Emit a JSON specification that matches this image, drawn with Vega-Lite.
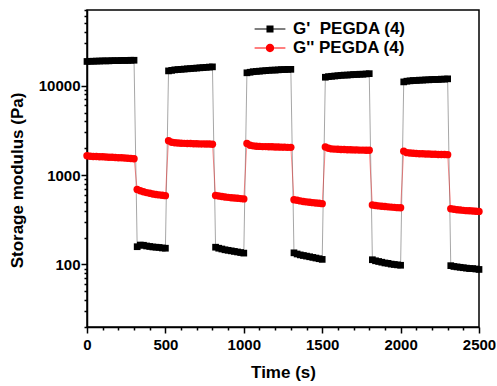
{
  "$schema": "https://vega.github.io/schema/vega-lite/v6.json",
  "width": 392,
  "height": 317,
  "autosize": "none",
  "padding": {"left": 87, "top": 10, "right": 18, "bottom": 59},
  "background": "white",
  "config": {
    "view": {"stroke": "black", "strokeWidth": 1.5},
    "font": "Liberation Sans",
    "axis": {
      "domainColor": "black", "domainWidth": 1.5,
      "tickColor": "black", "tickWidth": 1.5,
      "labelFont": "Liberation Sans", "labelFontSize": 15, "labelFontWeight": "bold", "labelColor": "black",
      "titleFont": "Liberation Sans", "titleFontSize": 17, "titleFontWeight": "bold", "titleColor": "black",
      "grid": false, "labelOverlap": false, "labelFlush": false, "labelBound": false
    }
  },
  "data": {"values": [
    {"t":0,"gp":18600,"gpp":1640},{"t":20,"gp":18700,"gpp":1620},{"t":40,"gp":18700,"gpp":1610},{"t":60,"gp":18800,"gpp":1610},
    {"t":80,"gp":18800,"gpp":1600},{"t":100,"gp":18900,"gpp":1600},{"t":120,"gp":18900,"gpp":1590},{"t":140,"gp":18900,"gpp":1580},
    {"t":160,"gp":19000,"gpp":1580},{"t":180,"gp":19000,"gpp":1570},{"t":200,"gp":19000,"gpp":1560},{"t":220,"gp":19100,"gpp":1560},
    {"t":240,"gp":19100,"gpp":1550},{"t":260,"gp":19100,"gpp":1540},{"t":280,"gp":19200,"gpp":1530},{"t":300,"gp":19200,"gpp":1520},
    {"t":320,"gp":158,"gpp":690},{"t":340,"gp":165,"gpp":668},{"t":360,"gp":164,"gpp":650},{"t":380,"gp":161,"gpp":636},
    {"t":400,"gp":159,"gpp":625},{"t":420,"gp":157,"gpp":615},{"t":440,"gp":156,"gpp":607},{"t":460,"gp":155,"gpp":600},
    {"t":480,"gp":153,"gpp":594},{"t":500,"gp":152,"gpp":588},
    {"t":520,"gp":14600,"gpp":2420},{"t":540,"gp":14800,"gpp":2330},{"t":560,"gp":15000,"gpp":2300},{"t":580,"gp":15100,"gpp":2280},
    {"t":600,"gp":15200,"gpp":2270},{"t":620,"gp":15300,"gpp":2260},{"t":640,"gp":15400,"gpp":2250},{"t":660,"gp":15500,"gpp":2250},
    {"t":680,"gp":15600,"gpp":2240},{"t":700,"gp":15700,"gpp":2240},{"t":720,"gp":15800,"gpp":2230},{"t":740,"gp":15900,"gpp":2230},
    {"t":760,"gp":16000,"gpp":2220},{"t":780,"gp":16100,"gpp":2220},{"t":800,"gp":16200,"gpp":2210},
    {"t":820,"gp":156,"gpp":590},{"t":840,"gp":152,"gpp":582},{"t":860,"gp":149,"gpp":575},{"t":880,"gp":146,"gpp":569},
    {"t":900,"gp":144,"gpp":563},{"t":920,"gp":142,"gpp":558},{"t":940,"gp":140,"gpp":553},{"t":960,"gp":138,"gpp":549},
    {"t":980,"gp":136,"gpp":545},{"t":1000,"gp":134,"gpp":541},
    {"t":1020,"gp":13900,"gpp":2250},{"t":1040,"gp":14100,"gpp":2150},{"t":1060,"gp":14300,"gpp":2120},{"t":1080,"gp":14400,"gpp":2100},
    {"t":1100,"gp":14500,"gpp":2090},{"t":1120,"gp":14600,"gpp":2080},{"t":1140,"gp":14700,"gpp":2080},{"t":1160,"gp":14800,"gpp":2070},
    {"t":1180,"gp":14900,"gpp":2070},{"t":1200,"gp":14900,"gpp":2060},{"t":1220,"gp":15000,"gpp":2060},{"t":1240,"gp":15100,"gpp":2050},
    {"t":1260,"gp":15100,"gpp":2050},{"t":1280,"gp":15200,"gpp":2040},{"t":1300,"gp":15200,"gpp":2040},
    {"t":1320,"gp":135,"gpp":530},{"t":1340,"gp":131,"gpp":522},{"t":1360,"gp":128,"gpp":514},{"t":1380,"gp":126,"gpp":507},
    {"t":1400,"gp":124,"gpp":501},{"t":1420,"gp":122,"gpp":496},{"t":1440,"gp":120,"gpp":491},{"t":1460,"gp":118,"gpp":487},
    {"t":1480,"gp":116,"gpp":483},{"t":1500,"gp":114,"gpp":479},
    {"t":1520,"gp":12400,"gpp":2060},{"t":1540,"gp":12600,"gpp":1990},{"t":1560,"gp":12700,"gpp":1960},{"t":1580,"gp":12800,"gpp":1950},
    {"t":1600,"gp":12900,"gpp":1940},{"t":1620,"gp":13000,"gpp":1930},{"t":1640,"gp":13100,"gpp":1930},{"t":1660,"gp":13100,"gpp":1920},
    {"t":1680,"gp":13200,"gpp":1920},{"t":1700,"gp":13300,"gpp":1910},{"t":1720,"gp":13300,"gpp":1910},{"t":1740,"gp":13400,"gpp":1900},
    {"t":1760,"gp":13400,"gpp":1900},{"t":1780,"gp":13500,"gpp":1890},{"t":1800,"gp":13600,"gpp":1890},
    {"t":1820,"gp":113,"gpp":463},{"t":1840,"gp":110,"gpp":457},{"t":1860,"gp":108,"gpp":452},{"t":1880,"gp":106,"gpp":448},
    {"t":1900,"gp":104,"gpp":444},{"t":1920,"gp":103,"gpp":441},{"t":1940,"gp":101,"gpp":438},{"t":1960,"gp":100,"gpp":435},
    {"t":1980,"gp":99,"gpp":432},{"t":2000,"gp":98,"gpp":430},
    {"t":2020,"gp":11000,"gpp":1850},{"t":2040,"gp":11200,"gpp":1780},{"t":2060,"gp":11300,"gpp":1760},{"t":2080,"gp":11400,"gpp":1750},
    {"t":2100,"gp":11400,"gpp":1740},{"t":2120,"gp":11500,"gpp":1730},{"t":2140,"gp":11500,"gpp":1730},{"t":2160,"gp":11600,"gpp":1720},
    {"t":2180,"gp":11600,"gpp":1720},{"t":2200,"gp":11700,"gpp":1710},{"t":2220,"gp":11700,"gpp":1710},{"t":2240,"gp":11700,"gpp":1700},
    {"t":2260,"gp":11800,"gpp":1700},{"t":2280,"gp":11800,"gpp":1700},{"t":2300,"gp":11900,"gpp":1690},
    {"t":2320,"gp":97,"gpp":420},{"t":2340,"gp":95,"gpp":414},{"t":2360,"gp":94,"gpp":410},{"t":2380,"gp":93,"gpp":406},
    {"t":2400,"gp":92,"gpp":403},{"t":2420,"gp":91,"gpp":400},{"t":2440,"gp":90,"gpp":398},{"t":2460,"gp":90,"gpp":396},
    {"t":2480,"gp":89,"gpp":394},{"t":2500,"gp":88,"gpp":392}
  ]},
  "transform": [{"fold": ["gp", "gpp"], "as": ["series", "v"]}],
  "encoding": {
    "x": {
      "field": "t", "type": "quantitative",
      "scale": {"domain": [0, 2500], "nice": false, "zero": false},
      "axis": {
        "title": "Time (s)",
        "values": [0,100,200,300,400,500,600,700,800,900,1000,1100,1200,1300,1400,1500,1600,1700,1800,1900,2000,2100,2200,2300,2400,2500],
        "labelExpr": "datum.value % 500 == 0 ? datum.value + '' : ''",
        "tickSize": {"condition": {"test": "datum.value % 500 == 0", "value": 6}, "value": 3},
        "labelPadding": 4,
        "titleY": 50, "titleBaseline": "alphabetic"
      }
    },
    "y": {
      "field": "v", "type": "quantitative",
      "scale": {"type": "log", "domain": [20, 70000], "nice": false},
      "axis": {
        "title": "Storage modulus (Pa)",
        "values": [20,30,40,50,60,70,80,90,100,200,300,400,500,600,700,800,900,1000,2000,3000,4000,5000,6000,7000,8000,9000,10000,20000,30000,40000,50000,60000,70000],
        "labelExpr": "(datum.value == 100 || datum.value == 1000 || datum.value == 10000) ? datum.value + '' : ''",
        "tickSize": {"condition": {"test": "datum.value == 100 || datum.value == 1000 || datum.value == 10000", "value": 6}, "value": 3},
        "labelPadding": 1,
        "titleX": -65, "titleY": 170, "titleBaseline": "alphabetic", "titleAlign": "center", "titleAngle": -90
      }
    }
  },
  "layer": [
    {
      "transform": [{"filter": "datum.series == 'gp'"}],
      "mark": {"type": "line", "strokeWidth": 1, "color": "black", "strokeOpacity": 0.35},
      "encoding": {}
    },
    {
      "transform": [{"filter": "datum.series == 'gpp'"}],
      "mark": {"type": "line", "strokeWidth": 1, "color": "red", "strokeOpacity": 0.4},
      "encoding": {}
    },
    {
      "transform": [{"filter": "datum.series == 'gp'"}],
      "mark": {"type": "point", "shape": "square", "filled": true, "color": "black", "size": 45, "opacity": 1}
    },
    {
      "transform": [{"filter": "datum.series == 'gpp'"}],
      "mark": {"type": "point", "shape": "circle", "filled": true, "color": "red", "size": 55, "opacity": 1}
    },
    {
      "transform": [{"filter": "datum.t == 0"}],
      "mark": {"type": "point", "filled": true, "opacity": 0, "size": 484},
      "encoding": {
        "color": {
          "field": "series", "type": "nominal",
          "scale": {"domain": ["gp", "gpp"], "range": ["black", "red"]},
          "legend": {
            "title": null, "orient": "none", "legendX": 172, "legendY": 8, "padding": 0,
            "symbolSize": 484, "symbolOpacity": 1, "symbolStrokeWidth": 0, "rowPadding": 0, "labelOffset": 12,
            "labelFont": "Liberation Sans", "labelFontSize": 17, "labelFontWeight": "bold", "labelColor": "black", "labelLimit": 0,
            "labelExpr": "datum.value == 'gp' ? \"G'\u00a0 PEGDA (4)\" : \"G'' PEGDA (4)\""
          }
        },
        "shape": {
          "field": "series", "type": "nominal",
          "scale": {"domain": ["gp", "gpp"], "range": [
            "M-1.4,-0.05H1.4V0.05H-1.4Z M-0.32,-0.32H0.32V0.32H-0.32Z",
            "M-1.4,-0.05H1.4V0.05H-1.4Z M-0.38,0A0.38,0.38 0 1,1 0.38,0A0.38,0.38 0 1,1 -0.38,0Z"
          ]},
          "legend": {
            "title": null, "orient": "none", "legendX": 172, "legendY": 8, "padding": 0,
            "symbolSize": 484, "symbolOpacity": 1, "symbolStrokeWidth": 0, "rowPadding": 0, "labelOffset": 12,
            "labelFont": "Liberation Sans", "labelFontSize": 17, "labelFontWeight": "bold", "labelColor": "black", "labelLimit": 0,
            "labelExpr": "datum.value == 'gp' ? \"G'\u00a0 PEGDA (4)\" : \"G'' PEGDA (4)\""
          }
        }
      }
    }
  ]
}
